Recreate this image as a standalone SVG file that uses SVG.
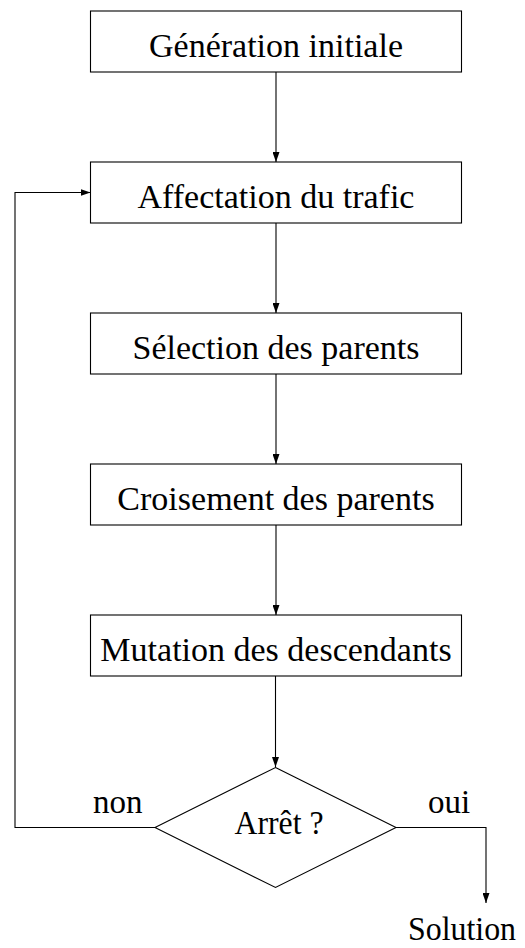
<svg xmlns="http://www.w3.org/2000/svg" width="525" height="948" viewBox="0 0 525 948">
<style>
.box{fill:#fff;stroke:#000;stroke-width:1.1}
.t{font-family:"Liberation Serif","Times New Roman",serif;font-size:34px;fill:#000;text-anchor:middle}
.lbl{font-family:"Liberation Serif","Times New Roman",serif;font-size:33px;fill:#000}
.c{fill:none;stroke:#000;stroke-width:1.1}
</style>
<defs>
<marker id="ah" markerWidth="10" markerHeight="7" refX="10" refY="3.5" orient="auto" markerUnits="userSpaceOnUse">
<path d="M0,0 L10,3.5 L0,7 z" fill="#000"/>
</marker>
</defs>
<g id="connectors">
<line class="c" x1="276" y1="72" x2="276" y2="162" marker-end="url(#ah)"/>
<line class="c" x1="276" y1="223" x2="276" y2="313" marker-end="url(#ah)"/>
<line class="c" x1="276" y1="374" x2="276" y2="464" marker-end="url(#ah)"/>
<line class="c" x1="276" y1="525" x2="276" y2="615" marker-end="url(#ah)"/>
<line class="c" x1="275.5" y1="676" x2="275.5" y2="767" marker-end="url(#ah)"/>
<polyline class="c" points="155,827.5 15,827.5 15,192.5 90.5,192.5" marker-end="url(#ah)"/>
<polyline class="c" points="396,827.5 486,827.5 486,903" marker-end="url(#ah)"/>
</g>
<g id="n1"><rect class="box" x="90.5" y="11" width="371" height="61"/><text class="t" x="276" y="57">Génération initiale</text></g>
<g id="n2"><rect class="box" x="90.5" y="162" width="371" height="61"/><text class="t" x="276" y="208">Affectation du trafic</text></g>
<g id="n3"><rect class="box" x="90.5" y="313" width="371" height="61"/><text class="t" x="276" y="359">Sélection des parents</text></g>
<g id="n4"><rect class="box" x="90.5" y="464" width="371" height="61"/><text class="t" x="276" y="510">Croisement des parents</text></g>
<g id="n5"><rect class="box" x="90.5" y="615" width="371" height="61"/><text class="t" x="276" y="661">Mutation des descendants</text></g>
<g id="n6"><polygon class="box" points="275.5,767.5 396,827.5 275.5,887.5 155,827.5"/><text class="t" x="279" y="834" textLength="89" lengthAdjust="spacingAndGlyphs">Arrêt ?</text></g>
<g id="labels">
<text class="lbl" x="93" y="813">non</text>
<text class="lbl" x="428" y="813">oui</text>
<text class="t" x="462" y="940" textLength="108" lengthAdjust="spacingAndGlyphs">Solution</text>
</g>
</svg>
